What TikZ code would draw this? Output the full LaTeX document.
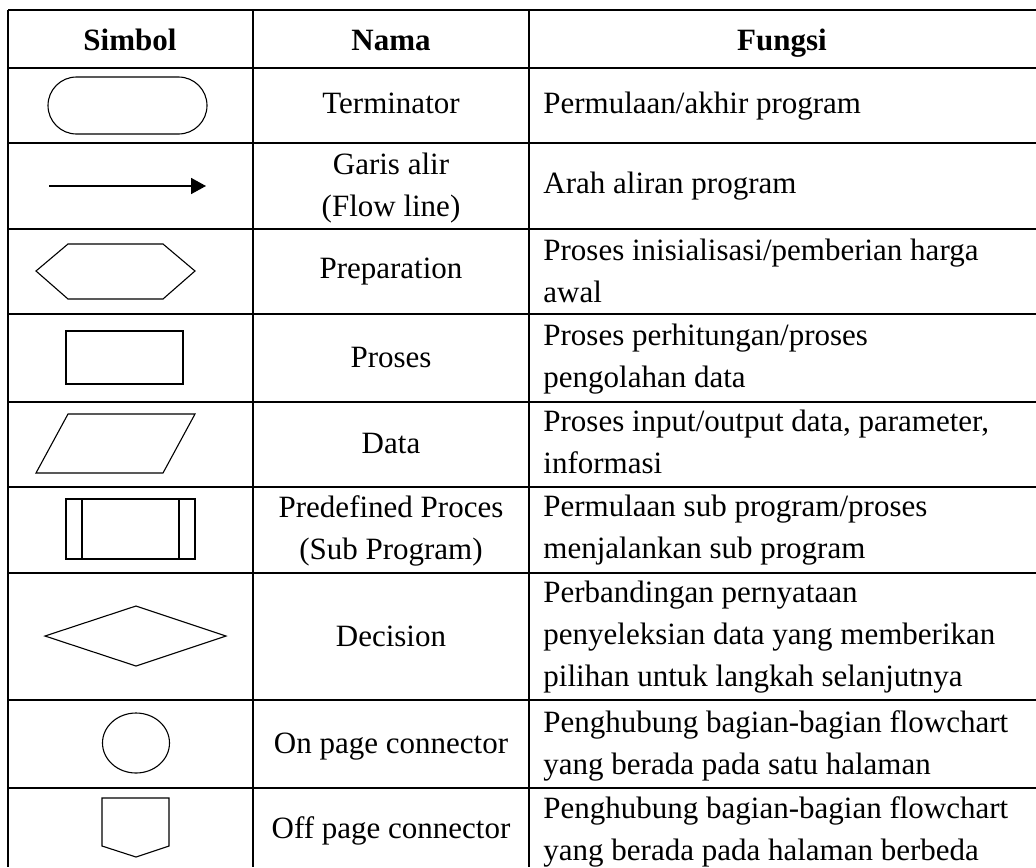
\documentclass[tikz,border=0pt]{standalone}
\usepackage{fontspec}
\setmainfont{Liberation Serif}
\usetikzlibrary{arrows.meta}
\tikzstyle{tabline} = [line width=0.8pt]
\tikzstyle{simbol} = [line width=0.55pt]
\tikzstyle{judul} = [inner sep=0pt, anchor=base, font=\fontsize{15.5}{21}\selectfont\bfseries]
\tikzstyle{nama} = [inner sep=0pt, anchor=base, font=\fontsize{15.5}{21}\selectfont]
\tikzstyle{namadua} = [inner sep=0pt, align=center, font=\fontsize{15.5}{21}\selectfont]
\tikzstyle{fungsi} = [inner sep=0pt, anchor=west, align=left, font=\fontsize{15.5}{21}\selectfont]

\begin{document}
\begin{tikzpicture}[x=0.5pt, y=-0.5pt]
    \useasboundingbox (0,0) rectangle (1036,867);
    % garis tabel
    \foreach \y in {10,68,143,229,314,402,487,573,700,788}
        \draw[tabline] (8,\y) -- (1036,\y);
    \foreach \x in {8,253,529}
        \draw[tabline] (\x,10) -- (\x,867);

    % judul kolom
    \node[judul] (hSimbol) at (130,50) {Simbol};
    \node[judul] (hNama) at (391,50) {Nama};
    \node[judul] (hFungsi) at (782,50) {Fungsi};

    % simbol
    \draw[simbol, rounded corners=14.25pt] (48,77) rectangle (207,134);
    \coordinate (flowA) at (49,186);
    \coordinate (flowB) at (206,186);
    \draw[line width=0.85pt, -{Triangle[length=7.5pt, width=8pt]}] (flowA) -- (flowB);
    \draw[simbol] (36,271) -- (68,244) -- (163,244) -- (195,271) -- (163,299) -- (68,299) -- cycle;
    \draw[simbol] (66,331) rectangle (183,384);
    \draw[simbol] (68,414) -- (195,414) -- (163,473) -- (36,473) -- cycle;
    \draw[simbol] (66,499) rectangle (195,559);
    \draw[simbol] (82,499) -- (82,559) (179,499) -- (179,559);
    \draw[simbol] (45,636) -- (136,606) -- (226,636) -- (136,666) -- cycle;
    \draw[simbol] (136,743) ellipse [x radius=33.5, y radius=30];
    \draw[simbol] (102,798) -- (169,798) -- (169,846) -- (136,857) -- (102,846) -- cycle;

    % nama
    \node[nama] (nTerminator) at (391,113) {Terminator};
    \node[namadua] (nFlow) at (391,188) {Garis alir\\(Flow line)};
    \node[nama] (nPreparation) at (391,278) {Preparation};
    \node[nama] (nProses) at (391,367) {Proses};
    \node[nama] (nData) at (391,453) {Data};
    \node[namadua] (nPredefined) at (391,531) {Predefined Proces\\(Sub Program)};
    \node[nama] (nDecision) at (391,646) {Decision};
    \node[nama] (nOnPage) at (391,753) {On page connector};
    \node[nama] (nOffPage) at (391,838) {Off page connector};

    % fungsi
    \node[fungsi] (fTerminator) at (543,106) {Permulaan/akhir program};
    \node[fungsi] (fFlow) at (543,186) {Arah aliran program};
    \node[fungsi] (fPreparation) at (543,271) {Proses inisialisasi/pemberian harga\\awal};
    \node[fungsi] (fProses) at (543,359) {Proses perhitungan/proses\\pengolahan data};
    \node[fungsi] (fData) at (543,442) {Proses input/output data, parameter,\\informasi};
    \node[fungsi] (fPredefined) at (543,530) {Permulaan sub program/proses\\menjalankan sub program};
    \node[fungsi] (fDecision) at (543,637) {Perbandingan pernyataan\\penyeleksian data yang memberikan\\pilihan untuk langkah selanjutnya};
    \node[fungsi] (fOnPage) at (543,745.5) {Penghubung bagian-bagian flowchart\\yang berada pada satu halaman};
    \node[fungsi] (fOffPage) at (543,832) {Penghubung bagian-bagian flowchart\\yang berada pada halaman berbeda};
\end{tikzpicture}
\end{document}
